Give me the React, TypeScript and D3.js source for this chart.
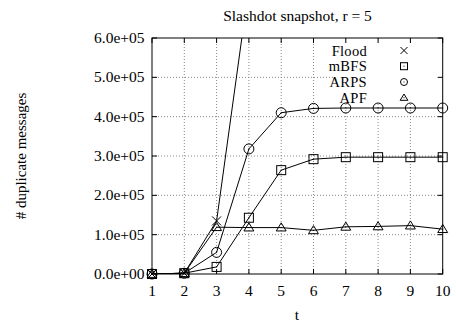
import React from "react";
import * as d3 from "d3";

const tValues = [1, 2, 3, 4, 5, 6, 7, 8, 9, 10];
const floodValues = [0, 2000, 135000, 730000];
const mbfsValues = [0, 2000, 18000, 143000, 264000, 292000, 297000, 297000, 297000, 297000];
const arpsValues = [0, 2000, 55000, 318000, 410000, 421000, 422000, 422000, 422000, 422000];
const apfValues = [0, 2000, 119000, 118000, 118000, 111000, 120000, 121000, 123000, 114000];
const yTicks = [0, 100000, 200000, 300000, 400000, 500000, 600000];
const seriesNames = ["Flood", "mBFS", "ARPS", "APF"];

const W = 456, H = 324;
const L = 152, R = 442.7, T = 38, B = 274;
const FONT = "'Liberation Serif', 'DejaVu Serif', serif";

function Marker({ kind, x, y, s }: { kind: string; x: number; y: number; s: number }) {
  const h = s / 2;
  if (kind === "Flood") {
    return (
      <path d={`M${x - h},${y - h}L${x + h},${y + h}M${x - h},${y + h}L${x + h},${y - h}`} stroke="#000" fill="none" strokeWidth={1} />
    );
  }
  if (kind === "mBFS") {
    return (
      <g>
        <rect x={x - h} y={y - h} width={s} height={s} stroke="#000" fill="none" strokeWidth={1} />
        <rect x={x - 0.5} y={y - 0.5} width={1} height={1} fill="#000" />
      </g>
    );
  }
  if (kind === "ARPS") {
    return (
      <g>
        <circle cx={x} cy={y} r={h} stroke="#000" fill="none" strokeWidth={1} />
        <rect x={x - 0.5} y={y - 0.5} width={1} height={1} fill="#000" />
      </g>
    );
  }
  return (
    <g>
      <path d={`M${x},${y - h * 1.05}L${x + h * 1.1},${y + h * 0.75}L${x - h * 1.1},${y + h * 0.75}Z`} stroke="#000" fill="none" strokeWidth={1} />
      <rect x={x - 0.5} y={y - 0.5} width={1} height={1} fill="#000" />
    </g>
  );
}

export default function App() {
  const x = d3.scaleLinear().domain([1, 10]).range([L, R]);
  const y = d3.scaleLinear().domain([0, 600000]).range([B, T]);
  const data: Record<string, number[]> = {
    Flood: floodValues,
    mBFS: mbfsValues,
    ARPS: arpsValues,
    APF: apfValues,
  };
  const line = d3
    .line<number>()
    .x((_, i) => x(tValues[i]))
    .y((d) => y(d));

  const legX = 367, legMX = 404;
  const legY = [50.5, 66.2, 82, 97.7];

  return (
    <svg width={W} height={H} style={{ position: "absolute", left: 0, top: 0, background: "#fff" }} fontFamily={FONT}>
      <rect x={0} y={0} width={W} height={H} fill="#fff" />
      <defs>
        <clipPath id="plot">
          <rect x={L} y={T} width={R - L} height={B - T} />
        </clipPath>
      </defs>
      {/* grid */}
      {tValues.slice(1, -1).map((t) => (
        <line key={"gx" + t} x1={x(t)} x2={x(t)} y1={T} y2={B} stroke="#888" strokeDasharray="1,2" strokeWidth={1} />
      ))}
      {yTicks.slice(1, -1).map((v) => (
        <line key={"gy" + v} x1={L} x2={R} y1={y(v)} y2={y(v)} stroke="#888" strokeDasharray="1,2" strokeWidth={1} />
      ))}
      {/* legend background */}
      <rect x={335} y={T + 1} width={R - 336} height={64} fill="#fff" />
      {/* ticks */}
      {tValues.map((t) => (
        <g key={"tx" + t}>
          <line x1={x(t)} x2={x(t)} y1={B} y2={B - 5} stroke="#000" />
          <line x1={x(t)} x2={x(t)} y1={T} y2={T + 5} stroke="#000" />
          <text x={x(t)} y={296} textAnchor="middle" fontSize={15.5}>{t}</text>
        </g>
      ))}
      {yTicks.map((v) => (
        <g key={"ty" + v}>
          <line x1={L} x2={L + 5} y1={y(v)} y2={y(v)} stroke="#000" />
          <line x1={R} x2={R - 5} y1={y(v)} y2={y(v)} stroke="#000" />
          <text x={144.5} y={y(v) + 5} textAnchor="end" fontSize={15.5}>
            {d3.format(".1e")(v).replace(/e([+-])(\d)$/, "e$10$2")}
          </text>
        </g>
      ))}
      {/* series */}
      <g clipPath="url(#plot)">
        {seriesNames.map((name) => (
          <path key={name} d={line(data[name]) || ""} stroke="#000" fill="none" strokeWidth={1} />
        ))}
      </g>
      <g>
        {seriesNames.map((name) =>
          data[name].map((v, i) =>
            v <= 600000 ? <Marker key={name + i} kind={name} x={x(tValues[i])} y={y(v)} s={name === "ARPS" ? 10 : 9} /> : null
          )
        )}
      </g>
      {/* frame */}
      <rect x={L} y={T} width={R - L} height={B - T} fill="none" stroke="#000" strokeWidth={1} />
      {/* legend */}
      {seriesNames.map((name, i) => (
        <g key={"leg" + name}>
          <text x={legX} y={legY[i] + 5} textAnchor="end" fontSize={14.5} letterSpacing={0.3}>{name}</text>
          <Marker kind={name} x={legMX} y={legY[i]} s={7} />
        </g>
      ))}
      {/* titles */}
      <text x={297.5} y={21} textAnchor="middle" fontSize={15.5}>Slashdot snapshot, r = 5</text>
      <text x={297} y={320} textAnchor="middle" fontSize={15.5}>t</text>
      <text transform={`translate(26,156) rotate(-90)`} textAnchor="middle" fontSize={15}># duplicate messages</text>
    </svg>
  );
}
